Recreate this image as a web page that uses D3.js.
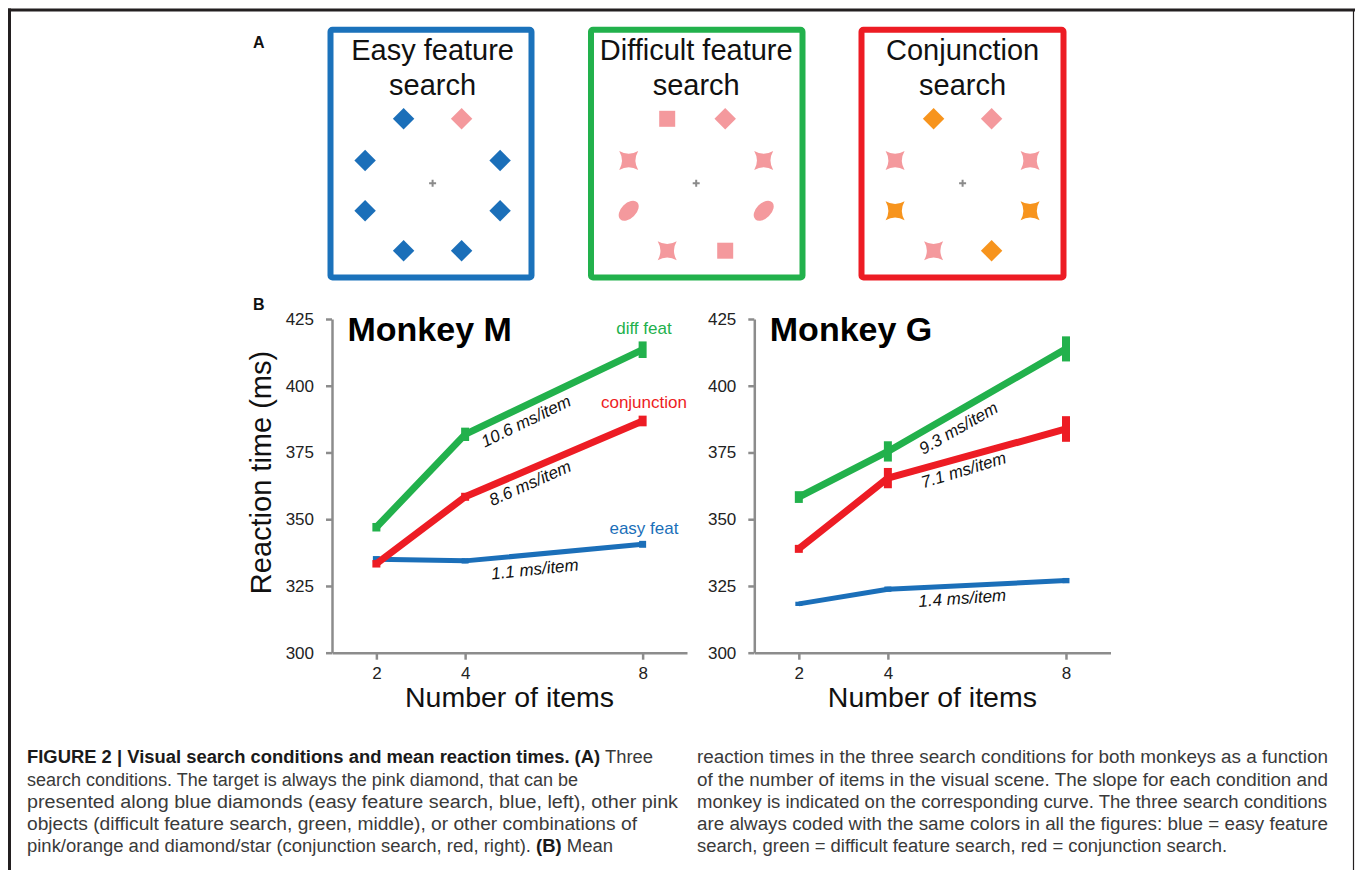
<!DOCTYPE html>
<html><head><meta charset="utf-8">
<script src="https://cdn.jsdelivr.net/npm/d3@7"></script>
<style>body{margin:0;background:#fff}svg{display:block}</style>
</head><body>
<svg id="fig" width="1355" height="870"></svg>
<script>
// ================= DATA =================
const items = [2, 4, 8];
const xTicks = [2, 4, 8];
const yTicks = [300, 325, 350, 375, 400, 425];
const conditionNames = ["easy feat", "diff feat", "conjunction"];

// Monkey M: mean RT (ms) and error (ms)
const monkeyM_easy = [335.0, 334.4, 340.6];
const monkeyM_diff = [347.0, 381.8, 413.5];
const monkeyM_conj = [333.3, 358.4, 386.8];
const monkeyM_easyErr = [1.2, 1.0, 1.3];
const monkeyM_diffErr = [1.6, 2.5, 3.1];
const monkeyM_conjErr = [1.4, 1.5, 2.0];
const monkeyM_slopes = ["1.1 ms/item", "10.6 ms/item", "8.6 ms/item"];

// Monkey G
const monkeyG_easy = [318.3, 323.8, 327.0];
const monkeyG_diff = [358.3, 375.4, 413.8];
const monkeyG_conj = [338.9, 365.4, 383.8];
const monkeyG_easyErr = [0.8, 1.0, 1.0];
const monkeyG_diffErr = [2.2, 3.8, 4.7];
const monkeyG_conjErr = [1.5, 3.8, 4.8];
const monkeyG_slopes = ["1.4 ms/item", "9.3 ms/item", "7.1 ms/item"];

// Panel A displays (8 items each; code = colour + shape)
const displayTitles = [["Easy feature", "search"], ["Difficult feature", "search"], ["Conjunction", "search"]];
const easyDisplay = ["bd", "pd", "bd", "bd", "bd", "bd", "bd", "bd"];
const difficultDisplay = ["ps", "pd", "px", "px", "pe", "pe", "px", "ps"];
const conjunctionDisplay = ["od", "pd", "px", "px", "ox", "ox", "px", "od"];

const captionLeft = [
  [["b", "FIGURE 2 | Visual search conditions and mean reaction times. (A)"], ["r", " Three"]],
  [["r", "search conditions. The target is always the pink diamond, that can be"]],
  [["r", "presented along blue diamonds (easy feature search, blue, left), other pink"]],
  [["r", "objects (difficult feature search, green, middle), or other combinations of"]],
  [["r", "pink/orange and diamond/star (conjunction search, red, right). "], ["b", "(B)"], ["r", " Mean"]]
];
const captionRight = [
  [["r", "reaction times in the three search conditions for both monkeys as a function"]],
  [["r", "of the number of items in the visual scene. The slope for each condition and"]],
  [["r", "monkey is indicated on the corresponding curve. The three search conditions"]],
  [["r", "are always coded with the same colors in all the figures: blue = easy feature"]],
  [["r", "search, green = difficult feature search, red = conjunction search."]]
];

// ================= LAYOUT / STYLE =================
const lineColors = ["#1b6fb9", "#22b14c", "#ed1c24"];
const lineWidths = [5, 7, 7];
const errWidths = [7, 8, 8];
const shapeColor = { b: "#1b6fb9", p: "#f4999d", o: "#f7941d" };
const boxColors = ["#1b72bb", "#22b14c", "#ed1c24"];
const boxes = [[327.5, 534.5, 432.6], [588, 805.5, 696.2], [858.5, 1066.5, 962.6]]; // left, right, centre
const slotDX = [-29, 29, -67.5, 67.5, -67.5, 67.5, -29, 29];
const slotDY = [-64.5, -64.5, -22.8, -22.8, 27.5, 27.5, 67.4, 67.4];
const plusY = 183.3;

const panels = [
  { title: "Monkey M", xRange: [332, 687], series: [monkeyM_easy, monkeyM_diff, monkeyM_conj],
    errs: [monkeyM_easyErr, monkeyM_diffErr, monkeyM_conjErr], slopes: monkeyM_slopes,
    slopePos: [[5.57, 331.4, -6], [5.37, 386.8, -26], [5.46, 363.6, -24]],
    condLabels: [[8.03, 346.7], [8.03, 421.6], [8.03, 393.9]], yTitle: true },
  { title: "Monkey G", xRange: [754.3, 1110.5], series: [monkeyG_easy, monkeyG_diff, monkeyG_conj],
    errs: [monkeyG_easyErr, monkeyG_diffErr, monkeyG_conjErr], slopes: monkeyG_slopes,
    slopePos: [[5.67, 320.5, -4], [5.58, 384.2, -30], [5.70, 368.5, -17]],
    condLabels: null, yTitle: false }
];

const svg = d3.select("#fig");
const SANS = "'Liberation Sans', Arial, Helvetica, sans-serif";

// figure frame
svg.append("line").attr("x1", 8).attr("x2", 1355).attr("y1", 10).attr("y2", 10).attr("stroke", "#231f20").attr("stroke-width", 3);
svg.append("line").attr("x1", 9.5).attr("x2", 9.5).attr("y1", 8.5).attr("y2", 870).attr("stroke", "#231f20").attr("stroke-width", 3);
svg.append("line").attr("x1", 1353.5).attr("x2", 1353.5).attr("y1", 10).attr("y2", 870).attr("stroke", "#231f20").attr("stroke-width", 1.2);

// panel letters
svg.append("text").attr("x", 253).attr("y", 48).text("A").attr("font-family", SANS).attr("font-weight", "bold").attr("font-size", 16).attr("fill", "#111");
svg.append("text").attr("x", 253).attr("y", 310).text("B").attr("font-family", SANS).attr("font-weight", "bold").attr("font-size", 16).attr("fill", "#111");

// ================= PANEL A =================
function starPath(r) {
  const k = r * 0.42;
  return `M${-r},${-r}Q0,${-k} ${r},${-r}Q${k},0 ${r},${r}Q0,${k} ${-r},${r}Q${-k},0 ${-r},${-r}Z`;
}
function drawShape(g, code, x, y) {
  const c = shapeColor[code[0]], s = code[1];
  if (s === "d") g.append("path").attr("d", d3.symbol(d3.symbolSquare, 230)()).attr("transform", `translate(${x},${y}) rotate(45)`).attr("fill", c);
  else if (s === "s") g.append("path").attr("d", d3.symbol(d3.symbolSquare, 256)()).attr("transform", `translate(${x},${y})`).attr("fill", c);
  else if (s === "x") g.append("path").attr("d", starPath(9.5)).attr("transform", `translate(${x},${y})`).attr("fill", c);
  else if (s === "e") g.append("ellipse").attr("rx", 12).attr("ry", 7.5).attr("transform", `translate(${x},${y}) rotate(-45)`).attr("fill", c);
}
const displays = [easyDisplay, difficultDisplay, conjunctionDisplay];
displays.forEach((disp, i) => {
  const [l, r, cx] = boxes[i];
  const g = svg.append("g");
  g.append("rect").attr("x", l + 3).attr("y", 29.7).attr("width", r - l - 6).attr("height", 247.8)
    .attr("rx", 2).attr("fill", "#fff").attr("stroke", boxColors[i]).attr("stroke-width", 6);
  displayTitles[i].forEach((t, j) => {
    g.append("text").attr("x", cx).attr("y", 59.5 + j * 35).attr("text-anchor", "middle")
      .attr("font-family", SANS).attr("font-size", 29).attr("fill", "#111").text(t);
  });
  disp.forEach((code, k) => drawShape(g, code, cx + slotDX[k], plusY + slotDY[k]));
  g.append("path").attr("d", `M${cx - 3.5},${plusY}H${cx + 3.5}M${cx},${plusY - 3.5}V${plusY + 3.5}`)
    .attr("stroke", "#8a8a8a").attr("stroke-width", 2);
});

// ================= PANEL B =================
const y = d3.scaleLinear().domain([300, 425]).range([652.7, 319]);
panels.forEach(p => {
  const x = d3.scaleLinear().domain([1, 9]).range(p.xRange);
  const g = svg.append("g");
  const ya = g.append("g").attr("transform", `translate(${p.xRange[0]},0)`)
    .call(d3.axisLeft(y).tickValues(yTicks).tickSize(6).tickSizeOuter(0).tickPadding(12));
  const xa = g.append("g").attr("transform", `translate(0,${y(300)})`)
    .call(d3.axisBottom(x).tickValues(xTicks).tickSize(7).tickSizeOuter(0).tickPadding(7).tickFormat(d3.format("d")));
  [ya, xa].forEach(a => {
    a.selectAll("path,line").attr("stroke", "#8c8c8c").attr("stroke-width", 2.5);
    a.selectAll("text").attr("font-family", SANS).attr("font-size", 17).attr("fill", "#222");
  });

  g.append("text").attr("x", (p.xRange[0] + p.xRange[1]) / 2).attr("y", 706.5).attr("text-anchor", "middle")
    .attr("font-family", SANS).attr("font-size", 28.5).attr("fill", "#111").text("Number of items");
  if (p.yTitle) {
    g.append("text").attr("transform", `translate(270.5,472.5) rotate(-90)`).attr("text-anchor", "middle")
      .attr("font-family", SANS).attr("font-size", 29).attr("fill", "#111").text("Reaction time (ms)");
  }
  g.append("text").attr("x", p.xRange[0] + 15.5).attr("y", 341).attr("font-family", SANS)
    .attr("font-weight", "bold").attr("font-size", 34).attr("fill", "#000").text(p.title);

  const line = d3.line().x((d, i) => x(items[i])).y(d => y(d));
  p.series.forEach((vals, s) => {
    g.append("path").attr("d", line(vals)).attr("fill", "none").attr("stroke", lineColors[s])
      .attr("stroke-width", lineWidths[s]).attr("stroke-linejoin", "round");
    g.selectAll(null).data(vals).enter().append("line")
      .attr("x1", (d, i) => x(items[i])).attr("x2", (d, i) => x(items[i]))
      .attr("y1", (d, i) => y(d - p.errs[s][i])).attr("y2", (d, i) => y(d + p.errs[s][i]))
      .attr("stroke", lineColors[s]).attr("stroke-width", errWidths[s]);
  });
  p.slopes.forEach((t, s) => {
    const [sx, sy, ang] = p.slopePos[s];
    g.append("text").attr("transform", `translate(${x(sx)},${y(sy)}) rotate(${ang})`)
      .attr("text-anchor", "middle").attr("dy", "0.35em").attr("font-family", SANS)
      .attr("font-style", "italic").attr("font-size", 17).attr("fill", "#111").text(t);
  });
  if (p.condLabels) {
    p.condLabels.forEach((pos, s) => {
      g.append("text").attr("x", x(pos[0])).attr("y", y(pos[1])).attr("dy", "0.35em").attr("text-anchor", "middle")
        .attr("font-family", SANS).attr("font-size", 17).attr("fill", lineColors[s]).text(conditionNames[s]);
    });
  }
});

// ================= CAPTION =================
const capBase = [763, 785.5, 807.5, 830, 852];
const leftTargets = [626, 551, 651, 610, 586];
const rightTargets = [631, 631, 630, 631, 530];
function caption(lines, x0, targets) {
  lines.forEach((parts, i) => {
    const segs = parts.map(([w, s]) => {
      const t = svg.append("text").attr("x", 0).attr("y", capBase[i])
        .attr("font-family", SANS).attr("font-size", 18)
        .attr("font-weight", w === "b" ? "bold" : "normal")
        .attr("fill", w === "b" ? "#1a1a1a" : "#3a3a3a")
        .attr("xml:space", "preserve").style("white-space", "pre").text(s);
      return { t, len: t.node().getComputedTextLength() };
    });
    const total = d3.sum(segs, d => d.len);
    const k = targets[i] / total;
    let xx = x0;
    segs.forEach(sg => {
      const L = sg.len * k;
      sg.t.attr("x", xx).attr("textLength", L).attr("lengthAdjust", "spacingAndGlyphs");
      xx += L;
    });
  });
}
caption(captionLeft, 27, leftTargets);
caption(captionRight, 697, rightTargets);
</script>
</body></html>
